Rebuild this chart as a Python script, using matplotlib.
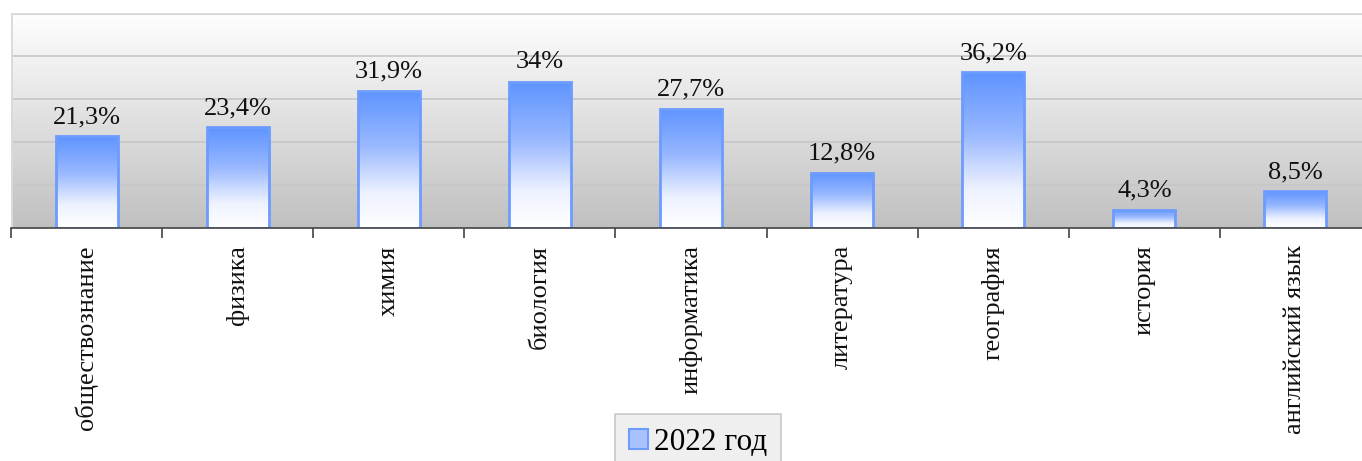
import numpy as np
import matplotlib
matplotlib.use("Agg")
import matplotlib.pyplot as plt
from matplotlib.colors import LinearSegmentedColormap
from matplotlib.patches import Rectangle

categories = ["обществознание", "физика", "химия", "биология", "информатика",
              "литература", "география", "история", "английский язык"]
values = [21.3, 23.4, 31.9, 34.0, 27.7, 12.8, 36.2, 4.3, 8.5]
value_labels = ["21,3%", "23,4%", "31,9%", "34%", "27,7%", "12,8%", "36,2%", "4,3%", "8,5%"]
series_name = "2022 год"

plt.rcParams['font.family'] = ['Liberation Serif', 'DejaVu Serif']

W, H = 1362, 461
fig = plt.figure(figsize=(W / 100, H / 100), dpi=100)
left, right, top, bottom = 11, 1371, 13, 228
ax = fig.add_axes([left / W, 1 - bottom / H, (right - left) / W, (bottom - top) / H])

n = len(categories)
x = np.arange(n)
ax.set_xlim(-0.5, n - 0.5)
ax.set_ylim(0, 50)

# background gradient (white top -> gray bottom)
bg_cmap = LinearSegmentedColormap.from_list("bg", ["#c0c0c0", "#e0e0e0", "#ffffff"])
grad = np.linspace(0, 1, 256).reshape(-1, 1)
ax.imshow(grad, cmap=bg_cmap, aspect="auto", origin="lower",
          extent=[-0.5, n - 0.5, 0, 50], zorder=0)

# gridlines
for g in [10, 20, 30, 40]:
    ax.axhline(g, color="#c6c6c6", lw=1.2, zorder=1)
ax.axhline(50, color="#dadada", lw=3, zorder=1)
ax.axvline(-0.5, color="#dadada", lw=2, zorder=1)

# bars with gradient fill
bar_cmap = LinearSegmentedColormap.from_list(
    "bar", [(0, "#ffffff"), (0.25, "#eef2ff"), (0.6, "#99b8ff"), (1, "#5e94ff")])
width = 0.41
bars = ax.bar(x, values, width=width, facecolor="none", edgecolor="#6d9cff",
              lw=2, zorder=3)
for b, v in zip(bars, values):
    bx, by = b.get_x(), b.get_y()
    im = ax.imshow(grad, cmap=bar_cmap, aspect="auto", origin="lower",
                   extent=[bx, bx + b.get_width(), by, by + v], zorder=2)
    im.set_clip_path(b)

for xi, v, lab in zip(x, values, value_labels):
    ax.annotate(lab, (xi, v), xytext=(0, 6), textcoords="offset points",
                ha="center", va="bottom", fontsize=19, color="#111111", zorder=4)

# axes styling
for s in ["left", "right", "top"]:
    ax.spines[s].set_visible(False)
ax.spines["bottom"].set_color("#444444")
ax.spines["bottom"].set_linewidth(1.2)
ax.spines["bottom"].set_zorder(5)
ax.set_yticks([])
ax.set_xticks(np.arange(n + 1) - 0.5, minor=False)
ax.set_xticklabels([])
ax.tick_params(axis="x", length=7, width=1.2, color="#444444")
for xi, c in zip(x, categories):
    ax.text(xi, -0.08, c, transform=ax.get_xaxis_transform(), rotation=90,
            ha="center", va="top", fontsize=19, color="#111111")

# legend
handle = Rectangle((0, 0), 1, 1, facecolor="#a9c2ff", edgecolor="#6d9cff", lw=1.5)
leg = fig.legend([handle], [series_name], loc="lower center",
                 bbox_to_anchor=(698 / W, -0.022), fontsize=22.5, frameon=True,
                 fancybox=False, handlelength=0.6, handleheight=0.6,
                 handletextpad=0.2, borderpad=0.45, borderaxespad=0)
fr = leg.get_frame()
fr.set_facecolor("#ebebeb")
fr.set_edgecolor("#bdbdbd")
fr.set_linewidth(1.2)

fig.savefig("out.png", dpi=100)
